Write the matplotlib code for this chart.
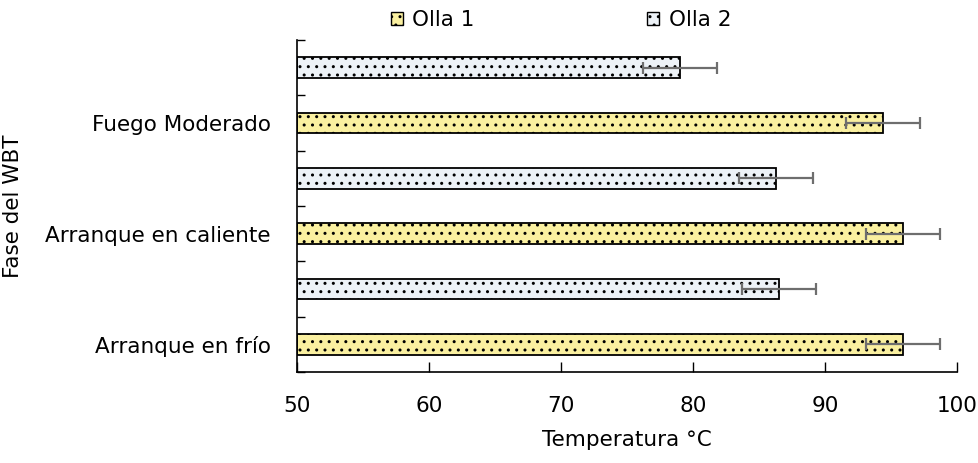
import matplotlib.pyplot as plt
from matplotlib.patches import Patch

# Data
fases = ["Arranque en frío", "Arranque en caliente", "Fuego Moderado"]
olla1 = [95.9, 95.9, 94.4]
olla1_err = [2.8, 2.8, 2.8]
olla2 = [86.5, 86.3, 79.0]
olla2_err = [2.8, 2.8, 2.8]

COL1 = "#faf0a0"
COL2 = "#edf2f7"
ERR = "#6e6e6e"
FS = 15.5

plt.rcParams["font.family"] = ["DejaVu Sans"]
plt.rcParams["hatch.linewidth"] = 1.0
plt.rcParams["hatch.color"] = "black"

fig = plt.figure(figsize=(9.79, 4.63), dpi=100)
ax = fig.add_axes([0.3034, 0.1965, 0.6741, 0.7171])

# each phase takes two slots: Olla 1 below, Olla 2 above
pos1 = [2 * i for i in range(len(fases))]
pos2 = [2 * i + 1 for i in range(len(fases))]
h = 0.37

ax.barh(pos1, [v - 50 for v in olla1], left=50, height=h, color=COL1,
        edgecolor="black", linewidth=1.3, hatch="..")
ax.barh(pos2, [v - 50 for v in olla2], left=50, height=h, color=COL2,
        edgecolor="black", linewidth=1.3, hatch="..")
ax.errorbar(olla1, pos1, xerr=olla1_err, fmt="none", ecolor=ERR,
            elinewidth=1.6, capsize=4.5, capthick=1.6)
ax.errorbar(olla2, pos2, xerr=olla2_err, fmt="none", ecolor=ERR,
            elinewidth=1.6, capsize=4.5, capthick=1.6)

ax.set_xlim(50, 100)
ax.set_ylim(-0.5, 2 * len(fases) - 0.5)
ax.set_xticks([50, 60, 70, 80, 90, 100])
ax.tick_params(axis="x", direction="in", length=7, width=1, labelsize=FS, pad=17)

ax.set_yticks(pos1)
ax.set_yticklabels(fases)
ax.tick_params(axis="y", which="major", length=0, labelsize=FS, pad=19)
ax.set_yticks([i - 0.5 for i in range(2 * len(fases) + 1)], minor=True)
ax.tick_params(axis="y", which="minor", direction="in", length=6, width=1)

for s in ["top", "right"]:
    ax.spines[s].set_visible(False)
for s in ["left", "bottom"]:
    ax.spines[s].set_linewidth(1.2)

ax.set_xlabel("Temperatura °C", fontsize=FS)
ax.xaxis.set_label_coords(0.5, -0.175)
ax.set_ylabel("Fase del WBT", fontsize=FS)
ax.yaxis.set_label_coords(-0.415, 0.5)

handles = [Patch(facecolor=COL1, edgecolor="black", hatch="..", label="Olla 1"),
           Patch(facecolor=COL2, edgecolor="black", hatch="..", label="Olla 2")]
fig.legend(handles=handles, loc="upper center", bbox_to_anchor=(0.573, 1.02),
           ncol=2, frameon=False, fontsize=FS, handlelength=0.55, handleheight=0.55,
           columnspacing=8.0, handletextpad=0.45)

fig.savefig("out.png", dpi=100)
